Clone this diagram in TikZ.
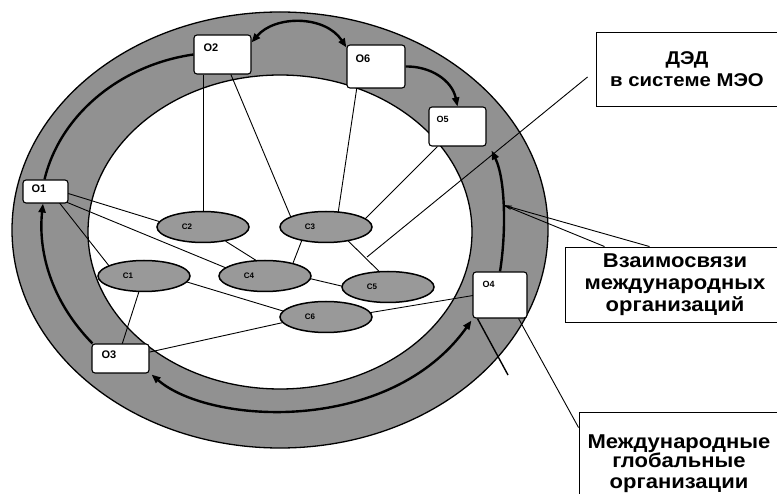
\documentclass[tikz,border=0pt]{standalone}
\usepackage{fontspec}
\setmainfont{Liberation Sans}
\newfontfamily\callfont[FakeStretch=1.1]{Liberation Sans}
\usetikzlibrary{arrows.meta,calc,shapes.geometric}
\pgfdeclarelayer{ring}
\pgfdeclarelayer{links}
\pgfsetlayers{ring,links,main}
\begin{document}
\begin{tikzpicture}[x=1pt,y=-1pt,
  obox/.style={draw, line width=1.1pt, fill=white, rounded corners=3pt, inner sep=0pt},
  olbl/.style={font=\bfseries\fontsize{11}{11}\selectfont, inner sep=0pt, anchor=north west},
  cell/.style={ellipse, draw, line width=1.5pt, fill=black!40, minimum width=92pt, minimum height=31pt, inner sep=0pt},
  clbl/.style={font=\bfseries\fontsize{8}{8}\selectfont, inner sep=0pt},
  link/.style={line width=0.9pt},
  flow/.style={line width=2.4pt, -{Triangle[length=9pt,width=7pt]}},
  callbox/.style={draw, line width=0.9pt, fill=white, inner sep=0pt},
  calltext/.style={inner sep=0pt, align=center, anchor=base, font=\callfont\bfseries\fontsize{20}{22}\selectfont},
  pointer/.style={line width=0.9pt}]

\useasboundingbox (0,0) rectangle (777,494);
\clip (0,0) rectangle (777,494);

% the band of international organisations
\begin{pgfonlayer}{ring}
  \fill[white] (0,0) rectangle (777,494);
  \fill[black!43, even odd rule]
    (280,230) ellipse [x radius=268, y radius=218]
    (280,232) ellipse [x radius=192, y radius=157];
  \draw[line width=1.3pt] (280,230) ellipse [x radius=268, y radius=218];
  \draw[line width=1.3pt] (280,232) ellipse [x radius=192, y radius=157];
\end{pgfonlayer}

% organisations on the band
\node[obox, minimum width=45pt, minimum height=23pt] (o1) at (45.5,191.5) {};
\node[obox, minimum width=57pt, minimum height=39pt] (o2) at (222.5,54.5) {};
\node[obox, minimum width=58pt, minimum height=43pt] (o6) at (376,66.5) {};
\node[obox, minimum width=57pt, minimum height=39pt] (o5) at (457.5,126.5) {};
\node[obox, minimum width=54pt, minimum height=46pt] (o4) at (500,295) {};
\node[obox, minimum width=57pt, minimum height=29pt] (o3) at (120.5,358.5) {};

\node[olbl] (o1t) at ($(o1.north west)+(9,5)$) {O1};
\node[olbl] (o2t) at ($(o2.north west)+(10,9)$) {O2};
\node[olbl] (o6t) at ($(o6.north west)+(9,10)$) {O6};
\node[olbl, font=\bfseries\fontsize{9}{9}\selectfont] (o5t) at ($(o5.north west)+(8,10)$) {O5};
\node[olbl, font=\bfseries\fontsize{9}{9}\selectfont] (o4t) at ($(o4.north west)+(10,10)$) {O4};
\node[olbl] (o3t) at ($(o3.north west)+(10,7)$) {O3};

% inner units
\node[cell] (c1) at (144,276) {};
\node[cell] (c2) at (203,227) {};
\node[cell] (c3) at (326,227) {};
\node[cell] (c4) at (265,276) {};
\node[cell] (c5) at (388,287) {};
\node[cell] (c6) at (326,317) {};

\node[clbl] (c1t) at ([xshift=-16pt]c1.center) {C1};
\node[clbl] (c2t) at ([xshift=-16pt]c2.center) {C2};
\node[clbl] (c3t) at ([xshift=-16pt]c3.center) {C3};
\node[clbl] (c4t) at ([xshift=-16pt]c4.center) {C4};
\node[clbl] (c5t) at ([xshift=-16pt]c5.center) {C5};
\node[clbl] (c6t) at ([xshift=-16pt]c6.center) {C6};

% callouts
\node[callbox, minimum width=182pt, minimum height=74pt] (ded) at (687,69) {};
\node[calltext, font=\callfont\bfseries\fontsize{18.5}{22}\selectfont] (dedt) at (687,87) {ДЭД\\в системе МЭО};
\node[callbox, minimum width=220pt, minimum height=75pt] (vz) at (675,284.5) {};
\node[calltext] (vzt) at (675,312) {Взаимосвязи\\международных\\организаций};
\node[callbox, minimum width=200pt, minimum height=100pt] (mg) at (679,462) {};
\node[calltext, font=\callfont\bfseries\fontsize{20}{20}\selectfont] (mgt) at (679,488) {Международные\\глобальные\\организации};

\coordinate (dedtip) at (367,257);
\coordinate (linktip) at (503,205);
\coordinate (o4tail) at (508,375);

\begin{pgfonlayer}{links}
  % ties between organisations and units
  \draw[link] (c2.north |- o2.south) -- (c2.north);
  \draw[link] (o2) -- ([xshift=-31pt]c3.center);
  \draw[link] ([xshift=-16pt]o6.center) -- ([xshift=10pt]c3.center);
  \draw[link] (o5) -- ([xshift=31pt]c3.center);
  \draw[link] ([yshift=5pt]o1.center) -- ([yshift=-8pt]c2.center);
  \draw[link] ([yshift=-2pt]o1.center) -- ([yshift=-8pt]c4.center);
  \draw[link] ([xshift=5pt]o1.center) -- ([xshift=-27pt]c1.center);
  \draw[link] (c2) -- ([yshift=10pt]c4.center);
  \draw[link] ([xshift=-19pt]c3.center) -- ([xshift=23pt]c4.center);
  \draw[link] ([xshift=8pt]c3.center) -- ([xshift=7pt]c5.center);
  \draw[link] ([yshift=8pt]c4.center) -- ([yshift=-10pt]c5.center);
  \draw[link] ([yshift=7pt]c1.center) -- ([yshift=-7pt]c6.center);
  \draw[link] (c1) -- ([xshift=-3pt]o3.center);
  \draw[link] (o3) -- ([yshift=4pt]c6.center);
  \draw[link] ([yshift=-3pt]c6.center) -- ([yshift=4pt]o4.center);

  % flows around the band
  \draw[flow] ([xshift=1pt]o3.north west) .. controls (50,300) and (38,250) .. ([xshift=-2.5pt]o1.south);
  \draw[line width=2.4pt] ([xshift=-1pt]o1.north) .. controls (60,115) and (120,65) .. (o2.west);
  \draw[flow, {Triangle[length=9pt,width=7pt]}-{Triangle[length=9pt,width=7pt]}]
    ([yshift=-8pt]o2.north east) .. controls (275,15) and (325,15) .. ([yshift=-3pt]o6.north west);
  \draw[flow] (o6.east) .. controls (430,66) and (452,80) .. (o5.north);
  \draw[flow] (o4.north) .. controls (506,235) and (506,180) .. ([shift={(5pt,-4pt)}]o5.south east);
  \draw[flow, {Triangle[length=9pt,width=7pt]}-{Triangle[length=9pt,width=7pt]}]
    ([shift={(2pt,-1pt)}]o3.south east) .. controls (210,425) and (390,435) .. ([shift={(-1pt,-2pt)}]o4.south west);
  \draw[line width=1.4pt] ([xshift=5pt]o4.south west) -- (o4tail);

  % callout pointers
  \draw[pointer] ($(ded.west)+(-8,8)$) -- (dedtip);
  \draw[pointer, -{Stealth[length=9pt,width=3.5pt]}] ($(vz.north west)+(40,0)$) -- (linktip);
  \draw[pointer, -{Stealth[length=9pt,width=3.5pt]}] ($(vz.north west)+(85,0)$) -- (linktip);
  \draw[pointer] ([xshift=-9pt]o4.south east) -- ($(mg.north west)+(0,16)$);
\end{pgfonlayer}
\end{tikzpicture}
\end{document}
